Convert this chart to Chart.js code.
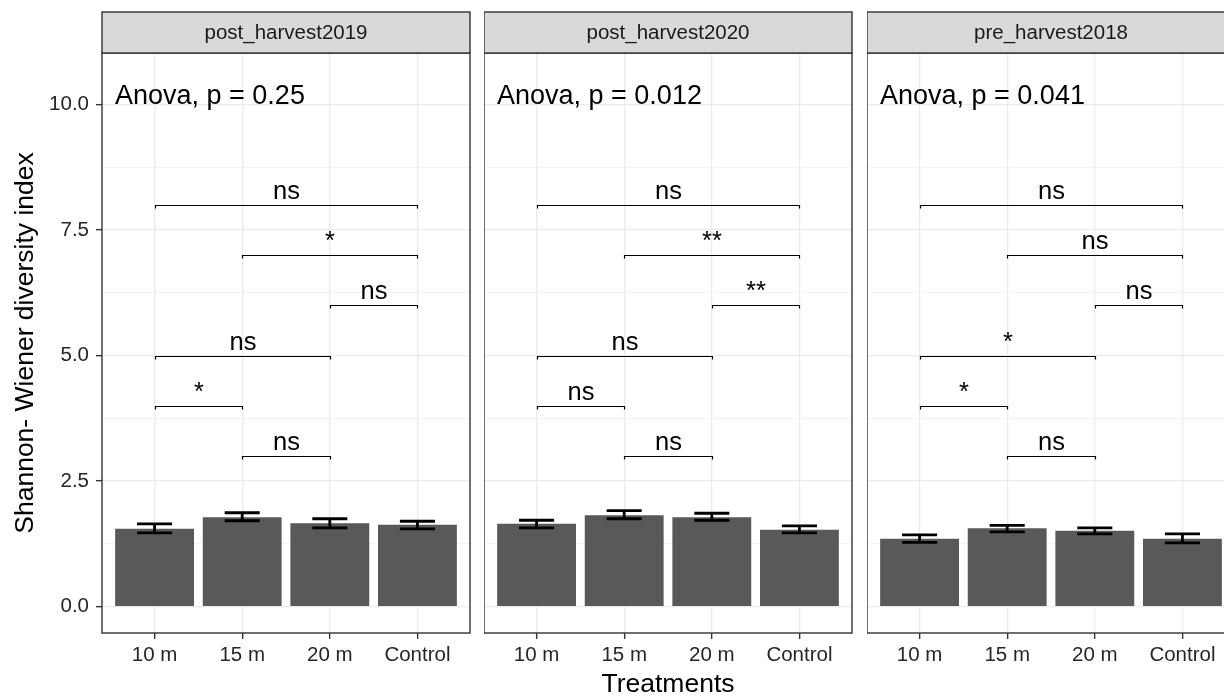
<!DOCTYPE html>
<html>
<head>
<meta charset="utf-8">
<script src="https://cdn.jsdelivr.net/npm/chart.js@4.4.1/dist/chart.umd.min.js"></script>
<style>
  html, body { margin: 0; padding: 0; background: #fff; overflow: hidden; }
  #wrap { position: relative; width: 1224px; height: 696px; overflow: hidden; }
  .panel { position: absolute; top: 0; height: 698px; }
</style>
</head>
<body>
<div id="wrap">
  <div class="panel" id="p1" style="left:0px;width:472px;"><canvas id="c1"></canvas></div>
  <div class="panel" id="p2" style="left:484px;width:370px;"><canvas id="c2"></canvas></div>
  <div class="panel" id="p3" style="left:867px;width:370px;"><canvas id="c3"></canvas></div>
</div>
<script>
// ---------------- data ----------------
const treatments = ['10 m', '15 m', '20 m', 'Control'];
const panelNames = ['post_harvest2019', 'post_harvest2020', 'pre_harvest2018'];

const means2019 = [1.55, 1.78, 1.66, 1.63];
const lower2019 = [1.47, 1.71, 1.57, 1.55];
const upper2019 = [1.65, 1.87, 1.75, 1.70];

const means2020 = [1.65, 1.82, 1.78, 1.53];
const lower2020 = [1.57, 1.75, 1.72, 1.47];
const upper2020 = [1.72, 1.91, 1.86, 1.61];

const means2018 = [1.35, 1.56, 1.51, 1.35];
const lower2018 = [1.28, 1.49, 1.45, 1.27];
const upper2018 = [1.43, 1.62, 1.57, 1.45];

const anovaLabels = ['Anova, p = 0.25', 'Anova, p = 0.012', 'Anova, p = 0.041'];
const anovaY = 10.15;

const bracketPairs = [[0, 3], [1, 3], [2, 3], [0, 2], [0, 1], [1, 2]];
const bracketHeights = [8, 7, 6, 5, 4, 3];
const sig2019 = ['ns', '*', 'ns', 'ns', '*', 'ns'];
const sig2020 = ['ns', '**', '**', 'ns', 'ns', 'ns'];
const sig2018 = ['ns', 'ns', 'ns', '*', '*', 'ns'];

const majorTicks = [0, 2.5, 5, 7.5, 10];
const minorTicks = [1.25, 3.75, 6.25, 8.75];
const yMin = -0.525, yMax = 11.025;

const yTitle = 'Shannon- Wiener diversity index';
const xTitle = 'Treatments';

// ---------------- helpers ----------------
const FONT = "'Liberation Sans', Arial, Helvetica, sans-serif";
const isMajor = v => majorTicks.some(m => Math.abs(m - v) < 1e-9);

function panelPlugin(p) {
  return {
    id: 'panelDeco' + p.idx,
    afterDatasetsDraw(chart) {
      const { ctx, chartArea: a, scales: { x, y } } = chart;
      ctx.save();
      // error bars
      ctx.strokeStyle = '#000';
      ctx.lineWidth = 2.8;
      p.means.forEach((m, i) => {
        const cx = x.getPixelForValue(i);
        const half = x.getPixelForValue(i + 0.2) - cx;
        const yt = y.getPixelForValue(p.upper[i]);
        const yb = y.getPixelForValue(p.lower[i]);
        ctx.beginPath();
        ctx.moveTo(cx - half, yt); ctx.lineTo(cx + half, yt);
        ctx.moveTo(cx, yt); ctx.lineTo(cx, yb);
        ctx.moveTo(cx - half, yb); ctx.lineTo(cx + half, yb);
        ctx.stroke();
      });
      // significance brackets
      ctx.lineWidth = 1.2;
      ctx.fillStyle = '#000';
      ctx.font = '25.5px ' + FONT;
      ctx.textAlign = 'center';
      ctx.textBaseline = 'alphabetic';
      bracketPairs.forEach((pair, k) => {
        const x1 = Math.round(x.getPixelForValue(pair[0])) + 0.5;
        const x2 = Math.round(x.getPixelForValue(pair[1])) + 0.5;
        const yy = Math.round(y.getPixelForValue(bracketHeights[k])) + 0.5;
        ctx.beginPath();
        ctx.moveTo(x1, yy + 3); ctx.lineTo(x1, yy); ctx.lineTo(x2, yy); ctx.lineTo(x2, yy + 3);
        ctx.stroke();
        ctx.fillText(p.sig[k], (x1 + x2) / 2, yy - 7);
      });
      // anova label
      ctx.textAlign = 'left';
      ctx.textBaseline = 'middle';
      ctx.font = '27px ' + FONT;
      ctx.fillText(p.anova, a.left + 13, y.getPixelForValue(anovaY));
      ctx.restore();
    },
    afterDraw(chart) {
      const { ctx, chartArea: a } = chart;
      ctx.save();
      // panel border
      ctx.strokeStyle = '#333';
      ctx.lineWidth = 1.4;
      ctx.strokeRect(a.left, a.top, a.right - a.left, a.bottom - a.top);
      // strip
      const sTop = a.top - 41;
      ctx.fillStyle = '#D9D9D9';
      ctx.fillRect(a.left, sTop, a.right - a.left, 41);
      ctx.strokeRect(a.left, sTop, a.right - a.left, 41);
      ctx.fillStyle = '#1A1A1A';
      ctx.font = '20.5px ' + FONT;
      ctx.textAlign = 'center';
      ctx.textBaseline = 'middle';
      ctx.fillText(p.name, (a.left + a.right) / 2, sTop + 21);
      ctx.restore();
    }
  };
}

function makeChart(canvasId, p) {
  const first = p.idx === 0;
  const middle = p.idx === 1;
  return new Chart(document.getElementById(canvasId), {
    type: 'bar',
    data: {
      datasets: [{
        data: p.means.map((v, i) => ({ x: i, y: v })),
        backgroundColor: '#595959',
        borderWidth: 0,
        barPercentage: 0.9,
        categoryPercentage: 1.0
      }]
    },
    options: {
      responsive: true,
      maintainAspectRatio: false,
      animation: false,
      events: [],
      layout: { padding: { top: 53, right: 2, left: 0, bottom: 0 } },
      plugins: { legend: { display: false }, tooltip: { enabled: false }, title: { display: false } },
      scales: {
        x: {
          type: 'linear',
          min: -0.6,
          max: 3.6,
          offset: false,
          afterBuildTicks: s => { s.ticks = treatments.map((t, i) => ({ value: i })); },
          afterFit: s => { s.height = 65; },
          ticks: {
            callback: v => treatments[v],
            font: { family: FONT, size: 20.5 },
            color: '#262626',
            padding: 4,
            maxRotation: 0,
            autoSkip: false
          },
          grid: {
            offset: false,
            color: '#EBEBEB',
            lineWidth: 1.3,
            tickColor: '#333',
            tickLength: 6,
            tickWidth: 1.4
          },
          border: { display: false },
          title: {
            display: middle,
            text: xTitle,
            font: { family: FONT, size: 26.5, lineHeight: 1.0 },
            color: '#000',
            padding: { top: 0, bottom: 0 }
          }
        },
        y: {
          type: 'linear',
          min: yMin,
          max: yMax,
          afterBuildTicks: s => { s.ticks = majorTicks.concat(minorTicks).sort((a, b) => a - b).map(v => ({ value: v })); },
          afterFit: s => { s.width = first ? 102 : 0; },
          ticks: {
            display: first,
            callback: v => isMajor(v) ? v.toFixed(1) : '',
            font: { family: FONT, size: 20.5 },
            color: '#262626',
            padding: 7
          },
          grid: {
            drawTicks: first,
            color: c => isMajor(c.tick.value) ? '#EBEBEB' : '#F0F0F0',
            lineWidth: c => isMajor(c.tick.value) ? 1.3 : 0.8,
            tickColor: c => isMajor(c.tick.value) ? '#333' : 'rgba(0,0,0,0)',
            tickLength: 6,
            tickWidth: 1.4
          },
          border: { display: false },
          title: {
            display: first,
            text: yTitle,
            font: { family: FONT, size: 26.5, lineHeight: 1.0 },
            color: '#000',
            padding: { top: 12, bottom: 0 }
          }
        }
      }
    },
    plugins: [panelPlugin(p)]
  });
}

makeChart('c1', { idx: 0, name: panelNames[0], means: means2019, lower: lower2019, upper: upper2019, sig: sig2019, anova: anovaLabels[0] });
makeChart('c2', { idx: 1, name: panelNames[1], means: means2020, lower: lower2020, upper: upper2020, sig: sig2020, anova: anovaLabels[1] });
makeChart('c3', { idx: 2, name: panelNames[2], means: means2018, lower: lower2018, upper: upper2018, sig: sig2018, anova: anovaLabels[2] });
</script>
</body>
</html>
